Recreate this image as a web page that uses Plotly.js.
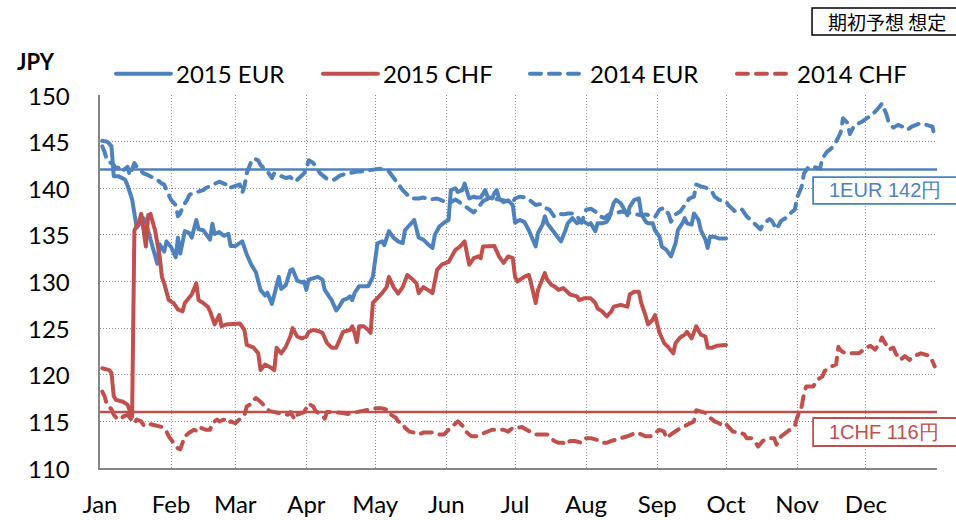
<!DOCTYPE html>
<html>
<head>
<meta charset="utf-8">
<script src="https://cdn.plot.ly/plotly-3.0.1.min.js"></script>
<style>
  html, body { margin: 0; padding: 0; background: #fff; }
  #chart { width: 956px; height: 520px; }
  .js-line { stroke-linecap: round; stroke-linejoin: round; }
</style>
</head>
<body>
<div id="chart"></div>
<script>
// ---- data (month-day on a shared calendar axis) ----
const monthLabels = ['Jan','Feb','Mar','Apr','May','Jun','Jul','Aug','Sep','Oct','Nov','Dec'];
const yTickVals = [110, 115, 120, 125, 130, 135, 140, 145, 150];
const refRates = { eur: 142, chf: 116 };
const refLabels = { eur: '1EUR 142円', chf: '1CHF 116円' };
const seriesNames = ['2015 EUR', '2015 CHF', '2014 EUR', '2014 CHF'];

const eur2015Dates = ['01-02','01-04','01-05','01-06','01-07','01-09','01-12','01-13','01-15','01-16','01-17','01-19','01-20','01-21','01-23','01-25','01-26','01-27','01-29','01-30',
'02-01','02-03','02-04','02-05','02-07','02-09','02-10','02-12','02-13','02-15','02-18','02-19','02-20','02-22','02-24','02-26','02-27',
'03-01','03-04','03-06','03-08','03-10','03-12','03-14','03-15','03-17','03-18','03-20','03-21','03-23','03-25','03-26','03-28','03-30','03-31',
'04-01','04-02','04-04','04-06','04-08','04-09','04-12','04-14','04-15','04-17','04-19','04-20','04-21','04-22','04-24','04-26','04-28','04-30',
'05-02','05-04','05-05','05-07','05-09','05-11','05-13','05-14','05-16','05-18','05-20','05-22','05-24','05-26','05-27','05-29','05-31',
'06-02','06-03','06-05','06-06','06-08','06-09','06-10','06-11','06-13','06-14','06-16','06-17','06-18','06-19','06-21','06-22','06-23','06-24','06-26','06-28','06-30',
'07-01','07-03','07-05','07-07','07-10','07-11','07-13','07-14','07-15','07-18','07-20','07-21','07-23','07-24','07-26','07-28','07-29','07-30',
'08-02','08-03','08-05','08-06','08-08','08-10','08-11','08-13','08-14','08-16','08-17','08-19','08-20','08-22','08-24','08-25','08-27','08-28','08-30','08-31',
'09-02','09-03','09-05','09-07','09-09','09-10','09-12','09-13','09-14','09-16','09-17','09-19','09-20','09-22','09-23','09-24','09-26','09-28','10-01'];
const eur2015Values = [145.1,145.0,144.8,144.5,141.3,141.3,140.9,140.3,138.8,137.3,135.8,136.4,136.8,136.3,134.5,133.0,131.9,134.0,133.2,134.3,
133.7,132.6,134.7,133.0,135.4,135.2,134.7,136.6,135.6,135.5,134.5,136.2,135.1,135.3,134.9,135.1,133.8,
133.8,134.3,132.9,131.8,131.0,129.1,128.5,128.8,127.6,128.5,130.5,129.2,129.6,131.2,131.3,130.1,129.9,130.0,
129.1,130.2,130.4,130.5,130.2,129.1,128.0,126.9,127.2,128.0,128.2,128.4,128.0,128.75,129.5,129.5,129.5,130.5,
134.1,134.3,133.9,135.4,134.7,134.3,134.1,135.5,136.1,136.6,134.7,134.5,134.0,133.6,135.0,135.9,136.3,
136.6,139.8,140.0,139.6,139.8,140.5,139.8,138.9,139.1,139.0,139.0,139.5,139.8,139.1,138.9,139.5,139.8,138.9,138.5,138.7,138.2,
136.3,136.6,136.4,135.5,133.75,135.2,136.1,137.0,136.25,135.2,134.6,134.3,135.5,136.25,136.8,136.25,136.4,136.6,
136.1,136.25,135.4,136.25,136.25,136.4,136.8,138.4,138.75,138.4,138.0,137.1,138.0,138.75,138.9,137.3,136.4,136.25,136.25,135.5,
134.8,133.75,133.4,132.7,134.1,135.5,136.25,136.8,136.25,136.1,137.3,136.6,135.5,134.5,133.6,134.8,134.8,134.6,134.6];

const chf2015Dates = ['01-02','01-05','01-06','01-07','01-08','01-11','01-13','01-14','01-15','01-16','01-18','01-19','01-21','01-22','01-23','01-25','01-27','01-28','01-29','01-31',
'02-02','02-04','02-06','02-07','02-09','02-10','02-12','02-13','02-15','02-17','02-18','02-20','02-22','02-23','02-25','02-28',
'03-03','03-05','03-06','03-09','03-11','03-12','03-14','03-17','03-18','03-19','03-21','03-23','03-25','03-26','03-28','03-30',
'04-01','04-02','04-04','04-06','04-08','04-10','04-12','04-14','04-16','04-17','04-20','04-21','04-22','04-23','04-24','04-26','04-28','04-29','04-30',
'05-02','05-04','05-06','05-07','05-09','05-11','05-13','05-15','05-17','05-19','05-20','05-22','05-24','05-26','05-28','05-30',
'06-02','06-04','06-05','06-07','06-09','06-11','06-13','06-15','06-16','06-17','06-19','06-22','06-24','06-26','06-28','06-30',
'07-01','07-02','07-05','07-07','07-08','07-10','07-11','07-13','07-14','07-15','07-17','07-18','07-20','07-22','07-23','07-25','07-28','07-29','07-31',
'08-03','08-05','08-06','08-08','08-10','08-12','08-13','08-16','08-18','08-19','08-20','08-22','08-24','08-25','08-27','08-28','08-30','08-31',
'09-02','09-04','09-06','09-08','09-09','09-11','09-13','09-14','09-16','09-18','09-20','09-22','09-23','09-25','09-27','09-29','10-01'];
const chf2015Values = [120.7,120.5,120.2,117.7,117.3,117.1,116.8,116.1,115.5,135.5,136.4,137.25,133.75,137.1,137.25,135.5,132.7,130.5,129.8,128.0,
127.7,127.0,126.8,127.7,128.4,128.6,129.8,128.0,127.7,127.3,126.8,125.4,126.4,125.2,125.4,125.5,
125.5,124.8,123.2,122.9,122.3,120.5,121.1,120.7,120.5,122.9,122.3,123.0,124.1,125.0,124.1,123.9,
124.1,124.6,124.8,124.7,124.5,123.4,122.9,122.9,123.9,124.6,124.8,125.2,124.5,123.5,125.2,125.2,124.8,124.5,127.7,
128.2,128.75,129.4,130.5,129.4,128.7,129.4,130.7,130.3,129.8,128.75,129.4,129.1,128.75,131.25,131.8,
132.1,133.0,133.4,133.75,134.3,131.8,132.5,132.7,132.5,133.75,133.75,133.8,132.7,132.0,132.7,132.5,
130.5,130.0,130.5,130.7,129.8,127.7,129.1,130.4,130.9,130.2,129.6,129.5,129.1,129.3,129.1,128.6,128.4,128.0,128.2,
128.2,127.7,127.1,126.8,126.25,126.8,127.3,127.5,127.4,127.3,128.6,128.9,128.9,127.7,126.25,125.4,125.9,126.4,
124.5,123.4,122.9,122.3,123.4,124.0,124.3,124.6,123.9,125.2,124.3,124.1,122.9,122.9,123.1,123.1,123.2];

const eur2014Dates = ['01-02','01-03','01-04','01-06','01-07','01-08','01-10','01-11','01-13','01-14','01-16','01-17','01-19','01-20','01-22','01-23','01-25','01-26','01-28','01-29','01-30',
'02-01','02-03','02-04','02-05','02-06','02-08','02-09','02-11','02-13','02-15','02-16','02-18','02-20','02-22','02-24','02-25','02-26','02-28',
'03-03','03-04','03-05','03-06','03-08','03-09','03-11','03-12','03-14','03-15','03-17','03-18','03-20','03-21','03-23','03-25','03-27','03-28','03-30','03-31',
'04-01','04-02','04-04','04-07','04-10','04-13','04-16','04-19','04-23','04-25','04-29',
'05-03','05-07','05-09','05-11','05-13','05-15','05-17','05-20','05-22','05-25','05-28','05-31',
'06-03','06-05','06-08','06-11','06-13','06-15','06-17','06-20','06-22','06-24','06-27','06-30',
'07-01','07-03','07-06','07-08','07-10','07-12','07-14','07-16','07-18','07-20','07-22','07-24','07-26','07-28','07-30',
'08-01','08-03','08-05','08-07','08-09','08-11','08-14','08-16','08-19','08-22','08-25','08-27','08-31',
'09-02','09-04','09-06','09-07','09-09','09-11','09-13','09-15','09-17','09-18','09-20','09-23','09-25','09-26','09-28','09-30',
'10-01','10-02','10-05','10-07','10-08','10-10','10-12','10-14','10-16','10-17','10-20','10-21','10-23','10-25','10-27','10-29','10-31',
'11-01','11-03','11-04','11-06','11-08','11-11','11-12','11-14','11-16','11-18','11-20','11-21','11-23','11-24','11-26','11-29',
'12-02','12-05','12-07','12-08','12-10','12-11','12-13','12-15','12-17','12-19','12-21','12-24','12-26','12-28','12-30','12-31'];
const eur2014Values = [144.5,143.9,143.0,142.6,142.5,142.1,142.3,141.9,142.3,141.4,142.7,142.3,141.8,141.6,141.4,141.3,141.1,140.9,140.5,140.4,139.8,
138.75,138.2,137.0,137.3,138.0,138.75,139.3,139.5,139.6,139.8,140.0,140.2,140.5,140.7,140.5,140.4,140.0,140.2,
140.4,139.5,140.2,141.6,142.9,143.2,143.0,142.5,142.1,141.8,141.1,141.6,141.4,141.3,141.1,141.2,140.7,140.9,141.3,141.6,
142.1,143.0,142.7,141.6,141.0,140.9,141.4,141.6,141.8,141.8,142.0,
142.1,141.8,141.1,140.5,139.8,139.3,138.9,138.9,139.0,138.8,138.9,138.6,
138.5,138.8,138.3,137.7,137.4,138.0,138.6,139.0,138.9,138.8,138.6,138.5,
138.9,139.1,139.0,138.6,138.2,138.3,137.9,137.7,137.0,137.3,137.2,137.3,137.3,137.0,136.3,
137.7,137.8,137.5,137.0,136.8,137.2,137.3,137.5,137.4,137.3,137.1,137.2,136.9,
137.7,137.9,137.2,136.4,137.2,137.5,138.2,138.9,139.1,140.4,140.2,140.0,139.6,139.1,138.75,138.6,
138.6,138.2,137.5,137.6,137.7,137.0,136.5,136.0,135.6,136.1,136.7,136.5,135.6,136.5,136.8,137.3,137.7,
139.0,140.2,141.6,142.3,142.3,142.1,143.2,143.9,144.3,145.0,146.0,147.5,147.0,145.8,146.75,147.1,
147.6,148.2,148.75,149.1,147.9,147.0,146.5,146.8,146.6,146.25,146.6,146.9,146.9,146.8,146.6,145.5];

const chf2014Dates = ['01-02','01-03','01-04','01-06','01-07','01-08','01-10','01-11','01-13','01-14','01-16','01-17','01-19','01-20','01-22','01-23','01-25','01-26','01-28','01-30','01-31',
'02-02','02-04','02-05','02-06','02-07','02-09','02-11','02-13','02-14','02-16','02-18','02-19','02-21','02-22','02-24','02-26','02-27',
'03-01','03-03','03-05','03-06','03-08','03-09','03-10','03-12','03-13','03-15','03-16','03-18','03-20','03-22','03-24','03-25','03-27','03-28','03-31',
'04-02','04-04','04-05','04-07','04-09','04-10','04-12','04-15','04-17','04-19','04-21','04-23','04-25','04-27','04-29',
'05-01','05-04','05-07','05-08','05-10','05-11','05-13','05-14','05-16','05-18','05-20','05-22','05-24','05-26','05-28','05-31',
'06-02','06-04','06-06','06-07','06-09','06-10','06-12','06-14','06-16','06-19','06-21','06-24','06-26','06-28','06-30',
'07-02','07-04','07-06','07-08','07-10','07-13','07-15','07-17','07-18','07-20','07-22','07-23','07-25','07-27','07-30','07-31',
'08-01','08-03','08-06','08-08','08-10','08-12','08-14','08-16','08-19','08-21','08-23','08-25','08-27','08-29','08-31',
'09-02','09-04','09-05','09-07','09-08','09-10','09-13','09-15','09-17','09-18','09-20','09-22','09-24','09-26','09-28','09-30',
'10-01','10-02','10-04','10-07','10-09','10-10','10-12','10-14','10-15','10-17','10-19','10-20','10-22','10-23','10-25','10-27','10-29','10-31',
'11-01','11-03','11-04','11-05','11-08','11-10','11-12','11-13','11-16','11-18','11-19','11-20','11-22','11-24','11-26','11-28',
'12-01','12-03','12-05','12-07','12-08','12-10','12-11','12-13','12-14','12-16','12-18','12-20','12-22','12-25','12-27','12-29','12-31'];
const chf2014Values = [118.2,117.7,116.8,116.3,115.7,115.4,115.2,115.5,115.7,115.4,114.8,115.2,115.0,114.6,114.5,114.7,114.6,114.5,114.4,113.9,113.4,
112.7,112.1,112.0,112.6,113.4,113.8,114.1,113.9,114.3,114.1,114.1,114.8,115.2,115.0,115.2,114.8,115.0,
114.8,115.2,115.7,116.6,116.9,117.3,117.5,117.1,116.8,116.3,116.1,116.0,115.9,115.9,115.7,116.0,115.2,115.7,116.0,
116.9,116.6,116.1,115.8,115.3,116.0,116.0,116.0,115.9,115.8,115.9,116.0,116.0,116.1,116.2,
116.4,116.4,116.2,115.7,115.4,115.0,114.8,114.3,113.9,113.8,113.6,113.8,113.8,113.8,113.6,113.6,
114.1,114.6,115.0,114.8,114.3,113.8,113.4,113.4,113.6,113.9,114.1,114.1,114.1,113.9,114.3,
114.3,114.4,114.1,113.8,113.6,113.6,113.6,113.2,112.9,112.7,112.7,112.5,112.9,112.9,112.7,113.0,
113.2,113.2,113.0,112.7,112.7,112.9,113.0,113.2,113.4,113.6,113.8,113.6,113.4,113.4,113.8,
114.1,113.9,113.2,113.6,113.8,114.1,114.5,114.8,115.0,116.2,116.1,115.9,115.4,115.0,114.8,114.5,
114.7,114.4,113.9,113.8,113.6,113.2,113.2,112.7,112.3,112.9,113.1,113.2,113.2,112.5,113.4,113.8,114.1,114.5,
115.4,116.6,118.0,118.75,118.75,119.5,119.8,120.4,120.9,121.1,123.0,122.6,122.3,122.3,122.3,122.3,
122.9,123.1,122.7,123.4,124.0,123.0,122.7,122.9,122.3,121.6,122.0,121.6,122.0,122.3,122.2,122.0,120.9];

// ---- chart ----
const BLUE = '#4F81BD', RED = '#C0504D';
const FONT = 'Lato, "Open Sans", sans-serif';
const toX = ds => ds.map(d => '2015-' + d);
const DASH = '11px,8px';

const traces = [
  { x: toX(eur2015Dates), y: eur2015Values, name: seriesNames[0], mode: 'lines', line: { color: BLUE, width: 4 } },
  { x: toX(chf2015Dates), y: chf2015Values, name: seriesNames[1], mode: 'lines', line: { color: RED, width: 4 } },
  { x: toX(eur2014Dates), y: eur2014Values, name: seriesNames[2], mode: 'lines', line: { color: BLUE, width: 4, dash: DASH } },
  { x: toX(chf2014Dates), y: chf2014Values, name: seriesNames[3], mode: 'lines', line: { color: RED, width: 4, dash: DASH } }
];

const monthStarts = [];
for (let m = 1; m <= 12; m++) monthStarts.push('2015-' + String(m).padStart(2, '0') + '-01');
monthStarts.push('2016-01-01');

const gridCol = '#8c8c8c';
const tickFont = { family: FONT, size: 24, color: '#000' };

// y tick labels placed through the y scale, right-aligned left of the axis
const yLabelAnns = yTickVals.map(v => ({
  xref: 'paper', yref: 'y', x: -0.0335, y: v, xanchor: 'right', yanchor: 'middle',
  showarrow: false, text: String(v), font: tickFont
}));

const layout = {
  width: 956, height: 520,
  margin: { l: 100, r: 19, t: 95, b: 52 },
  paper_bgcolor: '#fff', plot_bgcolor: '#fff',
  showlegend: true,
  legend: {
    orientation: 'h', x: 0.0131, xanchor: 'left', y: 1.056, yanchor: 'middle',
    font: { family: FONT, size: 24, color: '#000' },
    entrywidth: 137, entrywidthmode: 'pixels', itemwidth: 55,
    bgcolor: 'rgba(0,0,0,0)', traceorder: 'normal'
  },
  xaxis: {
    type: 'date', range: ['2015-01-01', '2016-01-01'],
    tickmode: 'array', tickvals: monthStarts, ticktext: monthLabels.concat(['']),
    showgrid: true, gridcolor: gridCol, gridwidth: 1, griddash: '1px,2px',
    showline: true, linecolor: '#868686', linewidth: 2,
    ticks: 'outside', ticklen: 14, tickcolor: 'rgba(0,0,0,0)', zeroline: false,
    tickfont: tickFont, fixedrange: true
  },
  yaxis: {
    range: [110, 150], tickmode: 'array', tickvals: yTickVals,
    showgrid: true, gridcolor: gridCol, gridwidth: 1, griddash: '1px,2px',
    showline: true, linecolor: '#868686', linewidth: 2,
    ticks: '', showticklabels: false, zeroline: false, fixedrange: true
  },
  shapes: [
    { type: 'line', xref: 'paper', x0: 0, x1: 1, yref: 'y', y0: refRates.eur, y1: refRates.eur, line: { color: BLUE, width: 2.5 }, layer: 'below' },
    { type: 'line', xref: 'paper', x0: 0, x1: 1, yref: 'y', y0: refRates.chf, y1: refRates.chf, line: { color: RED, width: 2.5 }, layer: 'below' },
    { type: 'rect', xref: 'paper', yref: 'paper', x0: 0.852, x1: 1.1, y0: 0.708, y1: 0.780, fillcolor: '#fff', line: { color: BLUE, width: 1.8 }, layer: 'above' },
    { type: 'rect', xref: 'paper', yref: 'paper', x0: 0.852, x1: 1.1, y0: 0.059, y1: 0.134, fillcolor: '#fff', line: { color: RED, width: 1.8 }, layer: 'above' },
    { type: 'rect', xref: 'paper', yref: 'paper', x0: 0.8507, x1: 1.1, y0: 1.161, y1: 1.233, fillcolor: '#fff', line: { color: '#000', width: 1.5 }, layer: 'above' }
  ],
  annotations: yLabelAnns.concat([
    { xref: 'paper', yref: 'paper', x: -0.101, y: 1.09, xanchor: 'left', yanchor: 'middle', showarrow: false,
      text: '<b>JPY</b>', font: { family: FONT, size: 22, color: '#000' } },
    { xref: 'paper', yref: 'paper', x: 0.8686, y: 0.744, xanchor: 'left', yanchor: 'middle', showarrow: false,
      text: refLabels.eur, font: { family: '"Liberation Sans", Arial, sans-serif', size: 20, color: BLUE } },
    { xref: 'paper', yref: 'paper', x: 0.8686, y: 0.0965, xanchor: 'left', yanchor: 'middle', showarrow: false,
      text: refLabels.chf, font: { family: '"Liberation Sans", Arial, sans-serif', size: 20, color: RED } },
    { xref: 'paper', yref: 'paper', x: 0.8674, y: 1.197, xanchor: 'left', yanchor: 'middle', showarrow: false,
      text: '期初予想 想定', font: { family: '"Noto Sans CJK JP", sans-serif', size: 19, color: '#000' } }
  ])
};

Plotly.newPlot('chart', traces, layout, { staticPlot: true, displayModeBar: false });
</script>
</body>
</html>
